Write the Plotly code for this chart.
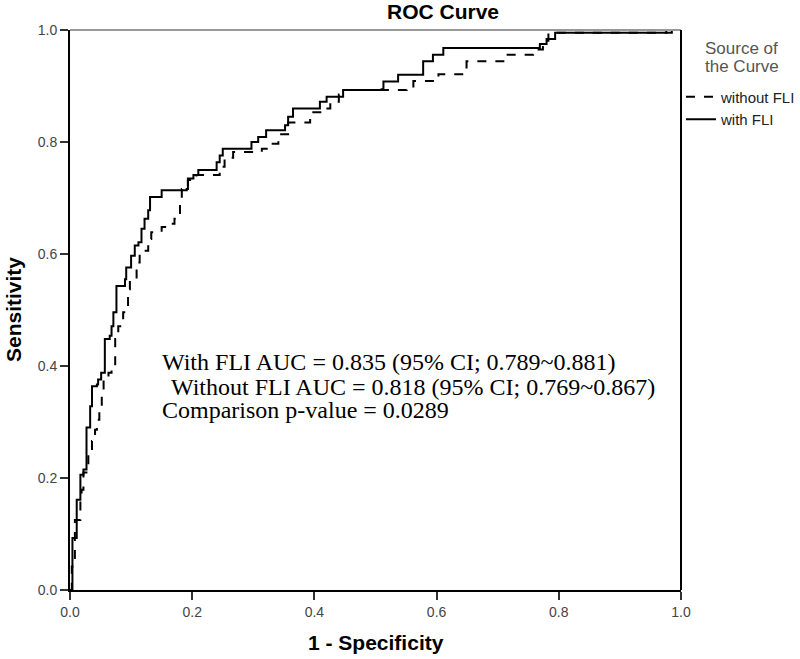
import plotly.graph_objects as go

# ROC curve vertices (1 - specificity, sensitivity)
with_fli_x = [0, 0.004, 0.011, 0.017, 0.022, 0.027, 0.033, 0.036, 0.044, 0.046, 0.051, 0.057, 0.065,
              0.068, 0.071, 0.076, 0.087, 0.090, 0.092, 0.100, 0.106, 0.112, 0.117, 0.122, 0.128,
              0.131, 0.147, 0.150, 0.191, 0.193, 0.202, 0.210, 0.237, 0.240, 0.245, 0.250, 0.294,
              0.297, 0.308, 0.321, 0.346, 0.352, 0.357, 0.365, 0.406, 0.409, 0.420, 0.447, 0.510,
              0.513, 0.537, 0.575, 0.578, 0.594, 0.611, 0.758, 0.769, 0.780, 0.794, 0.976, 1.0]
with_fli_y = [0, 0.093, 0.161, 0.206, 0.215, 0.290, 0.328, 0.364, 0.367, 0.376, 0.388, 0.448, 0.454,
              0.471, 0.496, 0.543, 0.543, 0.555, 0.576, 0.597, 0.615, 0.621, 0.645, 0.663, 0.678,
              0.702, 0.702, 0.714, 0.716, 0.735, 0.741, 0.750, 0.750, 0.764, 0.776, 0.788, 0.788,
              0.800, 0.809, 0.821, 0.821, 0.830, 0.845, 0.860, 0.860, 0.872, 0.881, 0.893, 0.894,
              0.908, 0.920, 0.920, 0.944, 0.956, 0.968, 0.968, 0.975, 0.984, 0.995, 1.0, 1.0]

without_fli_x = [0, 0.003, 0.008, 0.017, 0.019, 0.022, 0.030, 0.036, 0.041, 0.044, 0.048, 0.052, 0.055,
                 0.063, 0.068, 0.074, 0.079, 0.087, 0.095, 0.098, 0.109, 0.114, 0.122, 0.128, 0.133,
                 0.150, 0.166, 0.171, 0.180, 0.183, 0.193, 0.207, 0.237, 0.245, 0.248, 0.253, 0.259,
                 0.267, 0.314, 0.330, 0.341, 0.357, 0.387, 0.393, 0.414, 0.426, 0.440, 0.447, 0.551,
                 0.562, 0.594, 0.603, 0.636, 0.647, 0.649, 0.709, 0.712, 0.745, 0.758, 0.774, 0.783,
                 0.985, 1.0]
without_fli_y = [0, 0.042, 0.125, 0.161, 0.179, 0.210, 0.245, 0.266, 0.286, 0.304, 0.328, 0.349, 0.376,
                 0.388, 0.400, 0.448, 0.471, 0.496, 0.537, 0.555, 0.585, 0.603, 0.606, 0.627, 0.639,
                 0.648, 0.654, 0.663, 0.692, 0.716, 0.732, 0.741, 0.741, 0.753, 0.756, 0.770, 0.772,
                 0.782, 0.788, 0.797, 0.814, 0.835, 0.835, 0.853, 0.860, 0.872, 0.885, 0.893, 0.897,
                 0.909, 0.909, 0.921, 0.921, 0.927, 0.944, 0.944, 0.956, 0.956, 0.965, 0.981, 0.995,
                 1.0, 1.0]

tick_vals = [0.0, 0.2, 0.4, 0.6, 0.8, 1.0]
tick_text = ["0.0", "0.2", "0.4", "0.6", "0.8", "1.0"]

stats_lines = [
    "With FLI AUC = 0.835 (95% CI; 0.789~0.881)",
    "Without FLI AUC = 0.818 (95% CI; 0.769~0.867)",
    "Comparison p-value = 0.0289",
]
legend_heading = ["Source of", "the Curve"]

SANS = "Liberation Sans, Arial"
SERIF = "Liberation Serif, Times New Roman"

fig = go.Figure()
fig.add_trace(go.Scatter(x=without_fli_x, y=without_fli_y, mode="lines", name="without FLI",
                         line=dict(color="black", width=2, dash="dash", shape="hv")))
fig.add_trace(go.Scatter(x=with_fli_x, y=with_fli_y, mode="lines", name="with FLI",
                         line=dict(color="black", width=2, shape="hv")))

axis_common = dict(range=[0, 1], tickvals=tick_vals, ticktext=tick_text, showgrid=False,
                   zeroline=False, showline=True, linecolor="black", linewidth=2,
                   ticks="outside", ticklen=8, tickwidth=1.5, tickcolor="#333",
                   tickfont=dict(family=SANS, size=14, color="#444"))

fig.update_layout(
    width=800, height=659,
    margin=dict(l=70, r=119, t=30, b=69, autoexpand=False),
    paper_bgcolor="white", plot_bgcolor="white",
    title=dict(text="<b>ROC Curve</b>", x=(443 - 70) / 611, xref="paper",
               y=1 - 12 / 659, yref="container", xanchor="center", yanchor="middle",
               font=dict(family=SANS, size=21, color="black")),
    xaxis=dict(**axis_common),
    yaxis=dict(**axis_common),
    showlegend=True,
    legend=dict(x=1.0, y=0.91, xanchor="left", yanchor="top", xref="paper", yref="paper",
                font=dict(family=SANS, size=15, color="#222"),
                itemwidth=30, tracegroupgap=0, bgcolor="rgba(0,0,0,0)"),
)

# plot frame: grey top edge, black right edge
fig.add_shape(type="line", xref="paper", yref="paper", x0=0, x1=1, y0=1, y1=1,
              line=dict(color="#999", width=2))
fig.add_shape(type="line", xref="paper", yref="paper", x0=1, x1=1, y0=0, y1=1,
              line=dict(color="black", width=2))

# legend heading
for txt, py in zip(legend_heading, [48, 66]):
    fig.add_annotation(text=txt, xref="paper", yref="paper",
                       x=(703 - 70) / 611, y=(590 - py) / 560, xanchor="left", yanchor="middle",
                       showarrow=False, font=dict(family=SANS, size=17, color="#555"))

# axis titles
fig.add_annotation(text="<b>1 - Specificity</b>", xref="paper", yref="paper", x=0.5, y=-52 / 560,
                   xanchor="center", yanchor="middle", showarrow=False,
                   font=dict(family=SANS, size=21, color="black"))
fig.add_annotation(text="<b>Sensitivity</b>", xref="paper", yref="paper", x=-57 / 611, y=0.5,
                   xanchor="center", yanchor="middle", textangle=-90, showarrow=False,
                   font=dict(family=SANS, size=21, color="black"))

# statistics text
stats_x = [0.147, 0.162, 0.147]
stats_y = [0.407, 0.363, 0.321]
for t, sx, sy in zip(stats_lines, stats_x, stats_y):
    fig.add_annotation(text=t, x=sx, y=sy, xref="x", yref="y", xanchor="left", yanchor="middle",
                       showarrow=False,
                       font=dict(family=SERIF, size=24, color="black"))

fig.write_html("out.html", config={"displayModeBar": False},
               post_script="document.body.style.margin='0';")
